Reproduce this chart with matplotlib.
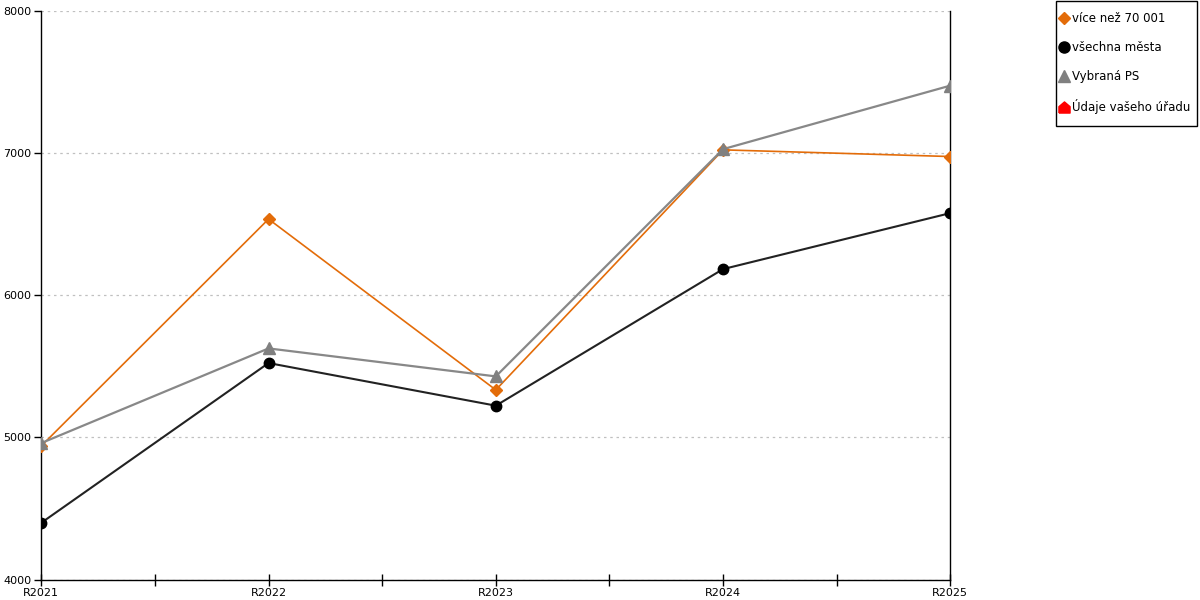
import matplotlib
matplotlib.use("Agg")
import matplotlib.pyplot as plt
from matplotlib.lines import Line2D
from matplotlib.patches import Rectangle
from matplotlib.ticker import MultipleLocator, FixedLocator

categories = ["R2021", "R2022", "R2023", "R2024", "R2025"]
vice_nez_70001 = [4940, 6536, 5334, 7023, 6976]
vsechna_mesta = [4399, 5523, 5223, 6184, 6578]
vybrana_ps = [4960, 5626, 5429, 7028, 7475]
legend_labels = ["více než 70 001", "všechna města", "Vybraná PS", "Údaje vašeho úřadu"]

plt.rcParams['font.family'] = ['DejaVu Sans']

fig = plt.figure(figsize=(12, 6), dpi=100)
ax = fig.add_axes([41.3/1200, 1 - 579.5/600, (950.3-41.3)/1200, (579.5-11)/600])

x = list(range(len(categories)))
ax.plot(x, vice_nez_70001, color="#E36C09", lw=1.2, marker="D", ms=6.5, mfc="#E36C09", mec="#E36C09", zorder=3)
ax.plot(x, vsechna_mesta, color="#222222", lw=1.5, marker="o", ms=7.5, mfc="black", mec="black", zorder=3)
ax.plot(x, vybrana_ps, color="#888888", lw=1.6, marker="^", ms=8, mfc="#808080", mec="#808080", zorder=4)

ax.set_xlim(0, len(categories) - 1)
ax.set_ylim(4000, 8000)
ax.yaxis.set_major_locator(MultipleLocator(1000))
ax.set_xticks(x)
ax.set_xticklabels(categories)
ax.xaxis.set_minor_locator(FixedLocator([0.5, 1.5, 2.5, 3.5]))
ax.tick_params(axis='x', which='both', direction='inout', length=8, width=1, color='black', labelsize=8, pad=2)
ax.tick_params(axis='y', which='major', direction='out', length=5, width=1, color='black', labelsize=8, pad=2)
ax.grid(axis='y', color='#c0c0c0', linestyle=(0, (2, 3)), linewidth=0.9)
ax.set_axisbelow(True)
ax.spines['top'].set_visible(False)
for s in ['left', 'bottom', 'right']:
    ax.spines[s].set_color('black')
    ax.spines[s].set_linewidth(1)

# legend frame
fig.patches.append(Rectangle((1055.5/1200, 1 - 125.5/600), 141.5/1200, 125/600,
                             transform=fig.transFigure, fill=False, edgecolor='black', linewidth=1))

house = [(-1, -1), (1, -1), (1, 0.15), (0, 1), (-1, 0.15), (-1, -1)]
handles = [
    Line2D([], [], ls='none', marker='D', ms=6, color="#E36C09"),
    Line2D([], [], ls='none', marker='o', ms=8, color="black"),
    Line2D([], [], ls='none', marker='^', ms=8, color="#808080"),
    Line2D([], [], ls='none', marker=house, ms=8, color="#ff0000"),
]
leg = fig.legend(handles, legend_labels, loc='upper left', bbox_to_anchor=(1060/1200, 1 - 12/600),
                 frameon=False, fontsize=8.5, handlelength=0.7, handletextpad=0.3,
                 labelspacing=1.35, borderpad=0, borderaxespad=0)

fig.savefig("out.png", dpi=100)
